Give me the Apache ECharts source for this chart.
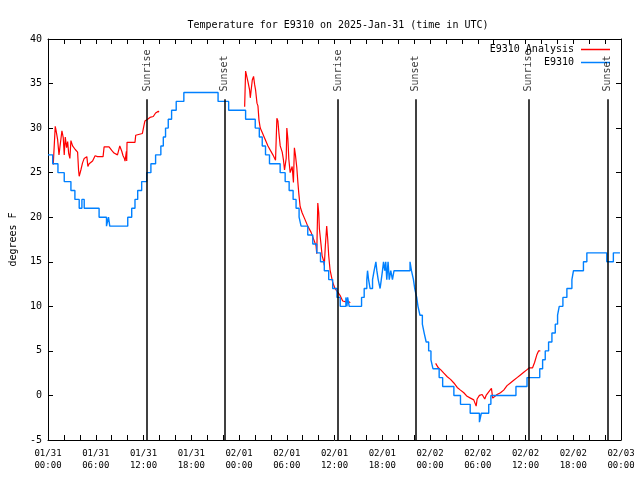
<!DOCTYPE html>
<html><head><meta charset="utf-8">
<script src="https://cdn.jsdelivr.net/npm/echarts@6/dist/echarts.min.js"></script>
<style>html,body{margin:0;padding:0;background:#fff}#c{width:640px;height:480px}</style>
</head><body><div id="c"></div>
<script>
const titleText = 'Temperature for E9310 on 2025-Jan-31 (time in UTC)';
const yAxisTitle = 'degrees F';
const xTickLabels = ['01/31\n00:00','01/31\n06:00','01/31\n12:00','01/31\n18:00','02/01\n00:00','02/01\n06:00','02/01\n12:00','02/01\n18:00','02/02\n00:00','02/02\n06:00','02/02\n12:00','02/02\n18:00','02/03\n00:00'];

// hours since 2025-01-31 00:00 UTC
const sunTimes = [12.43, 22.19, 36.46, 46.20, 60.37, 70.29];
const sunLabels = ['Sunrise','Sunset','Sunrise','Sunset','Sunrise','Sunset'];

// E9310 observations (time of change, new value)
const blueTimes = [0,0.59,1.25,2.04,2.88,3.38,3.92,4.26,4.55,6.42,7.35,7.6,7.76,10.02,10.52,10.93,11.27,11.77,12.40,12.93,13.52,14.18,14.49,14.77,15.11,15.53,16.11,17.07,21.37,22.70,24.83,26.04,26.55,26.92,27.33,27.83,29.17,29.80,30.30,30.80,31.17,31.55,31.80,32.64,33.27,33.77,34.24,34.72,35.27,35.77,36.31,36.72,37.43,37.56,37.65,37.85,39.40,39.73,40.06,40.15,40.28,40.48,40.78,40.98,41.20,41.32,41.49,41.73,41.88,42.03,42.16,42.32,42.44,42.57,42.73,42.88,43.07,43.28,43.48,45.49,45.67,45.92,46.08,46.33,46.49,46.74,47.04,47.27,47.52,47.83,48.12,48.37,49.15,49.59,51.00,51.83,53.05,54.21,54.45,55.38,55.65,58.80,60.19,61.79,62.15,62.48,62.90,63.32,63.74,64.03,64.24,64.70,65.20,65.83,66.03,67.28,67.71,70.21,71.04,71.87];
const blueValues = [27,26,25,24,23,22,21,22,21,20,19,20,19,20,21,22,23,24,25,26,27,28,29,30,31,32,33,34,33,32,31,30,29,28,27,26,25,24,23,22,21,20,19,18,17,16,15,14,13,12,11,10,11,10,11,10,11,12,13,14,13,12,13,14,15,14,13,12,13,14,15,14,15,13,15,13,14,13,14,15,14,13,12,11,10,9,8,7,6,5,4,3,2,1,0,-1,-2,-3,-2,-1,0,1,2,3,4,5,6,7,8,9,10,11,12,13,14,15,16,15,16,16];

// E9310 Analysis, three runs
const redTimes1 = [0.66,0.91,1.00,1.21,1.38,1.63,1.75,1.92,2.04,2.17,2.34,2.47,2.59,2.75,2.88,3.09,3.42,3.72,3.84,3.92,4.13,4.34,4.55,4.67,4.76,4.88,5.01,5.17,5.60,5.92,6.22,6.42,6.92,7.05,7.67,8.01,8.30,8.73,8.93,9.02,9.27,9.43,9.60,9.68,9.85,9.89,9.93,10.93,11.02,11.86,12.06,12.18,12.52,12.81,13.02,13.23,13.52,13.86,13.94];
const redValues1 = [25.9,30.2,29.8,28.7,27.0,26.9,29.7,28.9,27.0,29.0,27.8,28.5,27.2,26.6,28.6,28.0,27.6,27.3,25.3,24.6,25.3,26.1,26.6,26.8,26.4,26.8,25.7,26.0,26.3,26.9,26.8,26.7,26.8,27.9,27.9,27.5,27.2,27.0,27.0,28.0,27.4,26.9,26.6,26.3,27.4,26.3,28.4,28.4,29.2,29.4,30.3,30.8,31.0,31.2,31.0,31.3,31.7,31.9,31.8];
const redTimes2 = [24.71,24.83,25.01,25.13,25.33,25.42,25.54,25.67,25.83,25.96,26.08,26.26,26.38,26.51,26.67,26.92,27.21,27.64,27.84,28.26,28.59,28.76,28.89,29.01,29.18,29.43,29.59,29.72,29.93,30.01,30.14,30.26,30.43,30.68,30.84,30.96,31.09,31.26,31.39,31.51,31.68,31.93,32.22,32.64,33.06,33.35,33.68,33.77,33.90,34.02,34.10,34.31,34.44,34.60,34.72,34.85,35.02,35.15,35.27,35.44,35.56,35.77,36.06,36.40,36.72,37.03,37.44,37.65,37.85,37.98];
const redValues2 = [32.4,36.4,36.3,35.2,34.3,33.4,33.2,35.4,35.8,34.9,34.3,32.8,32.5,30.9,30.0,29.5,28.9,28.0,27.8,27.0,26.4,31.1,30.8,29.5,28.0,27.3,26.4,25.3,26.6,30.0,28.8,26.5,25.0,25.7,23.9,27.8,27.0,25.6,24.0,22.7,21.2,20.5,19.9,19.0,18.3,17.6,16.8,15.9,21.6,20.5,18.7,16.9,15.7,15.2,14.6,16.8,19.0,17.5,15.7,14.1,14.2,12.7,12.0,11.6,11.2,10.6,10.5,10.6,10.5,10.4];
const redTimes3 = [48.71,48.88,49.05,49.33,49.74,50.17,50.58,51.00,51.42,51.83,52.25,52.66,53.08,53.50,53.71,53.80,53.92,54.21,54.55,54.75,54.88,55.05,55.18,55.38,55.59,55.72,55.88,56.13,56.43,56.85,57.26,57.68,58.10,58.52,58.94,59.36,59.78,60.20,60.48,60.73,60.89,61.14,61.44,61.64,61.86];
const redValues3 = [3.6,3.4,3.1,2.9,2.5,2.1,1.8,1.4,0.9,0.6,0.3,-0.1,-0.3,-0.5,-0.7,-1.2,-0.4,0.0,0.1,0.2,-0.4,0.0,0.0,0.4,0.6,0.8,-0.3,-0.1,0.1,0.3,0.6,1.1,1.4,1.7,2.0,2.3,2.6,2.9,3.1,2.9,3.1,3.7,4.6,5.0,5.0];

const zip = (a, b) => a.map((t, i) => [t, b[i]]);
const FONT = 'DejaVu Sans Mono';
const RED = '#ff0000', BLUE = '#0080ff';

const chart = echarts.init(document.getElementById('c'), null, {renderer: 'canvas'});
const tickCommon = {inside: true, length: 5, lineStyle: {color: '#000', width: 1}};
const lineCommon = {show: true, onZero: false, lineStyle: {color: '#000', width: 1}};
const redSeries = [redTimes1, redTimes2, redTimes3].map((tt, k) => ({
  name: 'E9310 Analysis', type: 'line', color: RED, showSymbol: false, symbol: 'none',
  lineStyle: {color: RED, width: 1.2}, data: zip(tt, [redValues1, redValues2, redValues3][k]), z: 3
}));
chart.setOption({
  animation: false,
  backgroundColor: '#fff',
  title: {text: titleText, left: 333, top: 14, textAlign: 'center',
    textStyle: {fontFamily: FONT, fontSize: 10, fontWeight: 'normal', color: '#000', lineHeight: 12}},
  grid: {left: 46, right: 19, top: 39, bottom: 40, containLabel: false},
  legend: [
    {data: ['E9310 Analysis'], right: 30, top: 43.5, align: 'right', padding: 0, icon: 'rect', itemWidth: 29, itemHeight: 1.5, itemGap: 0,
     textStyle: {fontFamily: FONT, fontSize: 10, color: '#000', lineHeight: 12, padding: [0, 2, 0, 0]}},
    {data: ['E9310'], right: 30, top: 56.5, align: 'right', padding: 0, icon: 'rect', itemWidth: 29, itemHeight: 1.5, itemGap: 0,
     textStyle: {fontFamily: FONT, fontSize: 10, color: '#000', lineHeight: 12, padding: [0, 2, 0, 0]}}
  ],
  xAxis: [
    {type: 'value', min: 0, max: 72, interval: 6, position: 'bottom', axisLine: lineCommon,
     axisTick: tickCommon, minorTick: {show: true, splitNumber: 3, length: 5, lineStyle: {color: '#000', width: 1}},
     splitLine: {show: false}, minorSplitLine: {show: false},
     axisLabel: {margin: 8, fontFamily: FONT, fontSize: 9, color: '#000', lineHeight: 12,
       formatter: v => xTickLabels[Math.round(v / 6)]}},
    {type: 'value', min: 0, max: 72, interval: 6, position: 'top', axisLine: lineCommon,
     axisTick: tickCommon, minorTick: {show: true, splitNumber: 3, length: 5, lineStyle: {color: '#000', width: 1}},
     splitLine: {show: false}, axisLabel: {show: false}}
  ],
  yAxis: [
    {type: 'value', min: -5, max: 40, interval: 5, position: 'left', axisLine: lineCommon, axisTick: tickCommon,
     splitLine: {show: false},
     name: yAxisTitle, nameLocation: 'middle', nameGap: 30, nameRotate: 90,
     nameTextStyle: {fontFamily: FONT, fontSize: 10, color: '#000'},
     axisLabel: {margin: 6, fontFamily: FONT, fontSize: 10, color: '#000'}},
    {type: 'value', min: -5, max: 40, interval: 5, position: 'right', axisLine: lineCommon, axisTick: tickCommon,
     splitLine: {show: false}, axisLabel: {show: false}}
  ],
  series: [
    ...redSeries,
    {name: 'E9310', type: 'line', color: BLUE, step: 'end', showSymbol: false, symbol: 'none',
     lineStyle: {color: BLUE, width: 1.4}, data: zip(blueTimes, blueValues), z: 4},
    {name: 'sun', type: 'scatter', symbolSize: 0, silent: true, z: 5,
     data: sunTimes.map(t => [t, 34.1]),
     label: {show: true, position: 'inside', rotate: 90, align: 'left', verticalAlign: 'middle',
       fontFamily: FONT, fontSize: 10, color: '#000', formatter: p => sunLabels[p.dataIndex]},
     markLine: {silent: true, symbol: ['none', 'none'], label: {show: false},
       lineStyle: {color: '#000', width: 1.5, type: 'solid'},
       data: sunTimes.map(t => [{coord: [t, -5]}, {coord: [t, 33.25]}])}}
  ]
});
</script></body></html>
